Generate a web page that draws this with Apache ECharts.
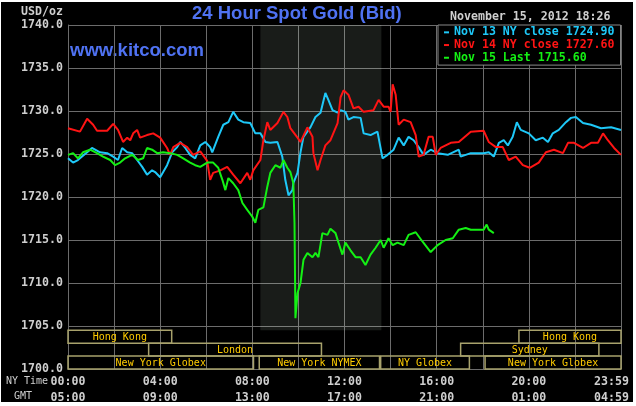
<!DOCTYPE html>
<html><head><meta charset="utf-8">
<script src="https://cdn.jsdelivr.net/npm/echarts@6/dist/echarts.min.js"></script>
<style>
html,body{margin:0;padding:0;background:#fff;}
#bg{position:absolute;left:1px;top:2px;width:632px;height:400px;background:#000;}
#c{position:absolute;left:0;top:0;width:636px;height:406px;}
</style>
</head><body><div id="bg"></div><div id="c"></div>
<script>
// ---- data (hour of NY day, USD/oz) ----
const seriesNames = ['Nov 13 NY close 1724.90', 'Nov 14 NY close 1727.60', 'Nov 15 Last 1715.60'];

const nov13 = [[0,1724.5],[0.22,1724.0],[0.43,1724.3],[0.83,1725.2],[1.04,1725.7],[1.39,1725.2],[1.70,1725.1],[1.96,1724.7],[2.17,1724.3],[2.35,1725.7],[2.57,1725.2],[2.78,1725.1],[3.00,1724.3],[3.22,1723.5],[3.43,1722.6],[3.65,1723.1],[3.78,1722.9],[4.00,1722.3],[4.30,1723.7],[4.52,1725.2],[4.74,1725.8],[4.87,1726.4],[5.09,1725.7],[5.30,1724.9],[5.52,1724.5],[5.74,1726.0],[5.96,1726.4],[6.17,1725.8],[6.26,1725.2],[6.52,1727.0],[6.74,1728.4],[6.96,1728.7],[7.17,1729.9],[7.39,1729.0],[7.61,1728.7],[7.91,1728.6],[8.13,1727.4],[8.35,1727.4],[8.57,1726.4],[8.78,1726.3],[9.09,1726.4],[9.30,1724.7],[9.43,1722.0],[9.57,1720.2],[9.74,1720.8],[9.78,1721.6],[9.96,1722.8],[10.09,1725.2],[10.22,1727.0],[10.52,1728.1],[10.74,1729.3],[10.96,1729.8],[11.17,1732.1],[11.30,1731.3],[11.48,1730.1],[11.70,1729.8],[11.83,1730.1],[12.04,1729.9],[12.17,1729.0],[12.39,1729.3],[12.70,1729.2],[12.83,1727.4],[13.13,1727.2],[13.43,1727.6],[13.65,1724.5],[13.87,1724.9],[14.13,1725.5],[14.35,1726.9],[14.57,1726.0],[14.78,1727.0],[15.00,1726.6],[15.22,1725.8],[15.43,1724.9],[15.74,1725.5],[16.04,1725.1],[16.48,1724.9],[16.96,1725.5],[17.04,1724.7],[17.48,1725.1],[18.04,1725.1],[18.26,1725.2],[18.48,1724.7],[18.70,1726.3],[18.91,1726.6],[19.09,1726.0],[19.30,1727.0],[19.48,1728.7],[19.65,1727.8],[20.00,1727.4],[20.30,1726.6],[20.61,1726.9],[20.83,1726.4],[21.04,1727.4],[21.30,1727.8],[21.61,1728.7],[21.83,1729.2],[22.04,1729.3],[22.35,1728.6],[22.70,1728.4],[23.13,1728.0],[23.57,1728.1],[24.00,1727.8]];

const nov14 = [[0,1728.0],[0.52,1727.6],[0.83,1729.1],[1.09,1728.4],[1.26,1727.7],[1.70,1727.7],[1.96,1728.5],[2.17,1727.8],[2.39,1726.4],[2.57,1726.9],[2.70,1726.6],[2.83,1727.4],[3.00,1727.8],[3.13,1726.9],[3.43,1727.2],[3.70,1727.4],[4.00,1726.9],[4.30,1725.7],[4.43,1724.9],[4.57,1725.8],[4.87,1726.3],[5.17,1725.8],[5.43,1724.9],[5.74,1725.3],[6.04,1724.2],[6.17,1722.0],[6.30,1722.8],[6.61,1723.1],[6.91,1723.5],[7.17,1722.6],[7.48,1721.6],[7.78,1722.8],[7.91,1722.0],[8.04,1723.1],[8.35,1724.3],[8.48,1726.6],[8.65,1728.7],[8.78,1727.8],[9.09,1728.6],[9.35,1729.9],[9.52,1729.3],[9.65,1728.0],[9.96,1726.9],[10.09,1726.4],[10.39,1728.1],[10.61,1727.0],[10.65,1725.1],[10.83,1723.1],[10.96,1724.3],[11.17,1726.0],[11.39,1726.6],[11.70,1728.6],[11.83,1731.6],[11.96,1732.4],[12.17,1731.9],[12.39,1730.3],[12.61,1730.5],[12.83,1729.9],[13.26,1730.1],[13.48,1731.3],[13.70,1730.5],[13.91,1730.5],[14.00,1729.9],[14.09,1733.1],[14.22,1731.9],[14.35,1728.4],[14.57,1729.0],[14.87,1728.7],[15.09,1727.2],[15.22,1724.7],[15.43,1724.9],[15.65,1727.0],[15.83,1727.0],[15.96,1724.9],[16.17,1725.7],[16.61,1726.3],[16.96,1726.4],[17.48,1727.6],[18.04,1727.7],[18.26,1726.4],[18.57,1725.8],[18.87,1725.8],[19.13,1724.3],[19.43,1724.7],[19.74,1723.7],[20.04,1723.4],[20.43,1724.0],[20.74,1725.2],[21.09,1725.5],[21.48,1725.1],[21.70,1726.3],[21.96,1726.3],[22.35,1725.7],[22.70,1726.3],[23.00,1726.3],[23.22,1727.4],[23.43,1726.6],[23.70,1725.7],[24.00,1724.9]];

const nov15 = [[0,1724.9],[0.22,1725.1],[0.43,1724.5],[0.65,1725.2],[0.96,1725.5],[1.26,1725.1],[1.52,1724.7],[1.83,1724.3],[2.04,1723.7],[2.26,1724.0],[2.48,1724.5],[2.78,1724.9],[3.04,1724.3],[3.26,1724.5],[3.43,1725.7],[3.65,1725.5],[3.87,1725.1],[4.13,1725.2],[4.43,1725.1],[4.74,1724.9],[5.00,1724.5],[5.30,1724.0],[5.52,1723.7],[5.74,1723.5],[6.04,1724.0],[6.30,1724.0],[6.52,1723.4],[6.70,1722.0],[6.83,1720.8],[6.96,1722.2],[7.17,1721.6],[7.39,1720.8],[7.57,1719.3],[7.78,1718.5],[8.00,1717.7],[8.13,1717.0],[8.26,1718.5],[8.48,1718.8],[8.65,1721.2],[8.78,1722.8],[9.00,1723.7],[9.22,1723.4],[9.35,1724.3],[9.52,1723.4],[9.65,1722.9],[9.78,1721.6],[9.83,1717.0],[9.87,1705.9],[9.96,1708.8],[10.09,1710.0],[10.22,1712.7],[10.39,1713.5],[10.61,1713.0],[10.74,1713.5],[10.87,1713.0],[11.04,1715.8],[11.26,1715.6],[11.39,1716.3],[11.61,1715.8],[11.74,1714.7],[11.91,1713.3],[12.04,1714.7],[12.26,1713.8],[12.48,1713.0],[12.70,1713.0],[12.91,1712.1],[13.13,1713.3],[13.35,1714.1],[13.57,1715.0],[13.70,1714.1],[13.91,1715.2],[14.09,1714.4],[14.30,1714.7],[14.57,1714.4],[14.78,1715.6],[15.09,1715.9],[15.39,1714.8],[15.74,1713.6],[16.04,1714.4],[16.39,1715.0],[16.70,1715.2],[16.96,1716.2],[17.26,1716.4],[17.48,1716.2],[18.04,1716.2],[18.17,1716.8],[18.26,1716.2],[18.48,1715.8]];

// trading sessions: [start hour, end hour, row]
const sessionNames = ['Hong Kong', 'London', 'New York Globex', 'New York NYMEX', 'NY Globex', 'Sydney', 'New York Globex', 'Hong Kong'];
const sessionStart = [0, 3.5, 0, 8.3, 13.57, 17.04, 18.1, 19.57];
const sessionEnd   = [4.5, 11, 8.05, 13.52, 17.42, 23.04, 24, 24];
const sessionRow   = [2, 1, 0, 0, 0, 1, 0, 2];
const nymexShade = [8.35, 13.6];

const nyTickLabels  = ['00:00', '04:00', '08:00', '12:00', '16:00', '20:00', '23:59'];
const gmtTickLabels = ['05:00', '09:00', '13:00', '17:00', '21:00', '01:00', '04:59'];

// ---- styles ----
const GRID = '#6c6c6c';
const TXT = '#cfcfcf';
const MONO = '"DejaVu Sans Mono", monospace';
const COLORS = ['#1ec8f8', '#ff1414', '#14f014'];
const ROW_H = 1.5;
const Y_MIN = 1700, Y_MAX = 1740;

const labelBase = {color: TXT, fontFamily: MONO, fontWeight: 'bold', fontSize: 11.6};
function tickFormatter(labels) {
  return function (v) {
    if (v % 4 !== 0) return '';
    const i = v / 4;
    return i === labels.length - 1 ? '{e|' + labels[i] + '}' : labels[i];
  };
}

const chart = echarts.init(document.getElementById('c'), null, {renderer: 'canvas'});
const sessionData = sessionNames.map((n, i) => [sessionStart[i], sessionEnd[i], sessionRow[i]]);

chart.setOption({
  backgroundColor: 'transparent',
  animation: false,
  grid: {left: 68, right: 15, top: 25, bottom: 37, containLabel: false},
  xAxis: [
    {type: 'value', min: 0, max: 24, interval: 2, position: 'bottom',
     axisLine: {show: false}, axisTick: {show: false},
     splitLine: {show: true, lineStyle: {color: GRID, width: 1}},
     axisLabel: Object.assign({margin: 7, formatter: tickFormatter(nyTickLabels),
       rich: {e: Object.assign({padding: [0, 19, 0, 0]}, labelBase)}}, labelBase)},
    {type: 'value', min: 0, max: 24, interval: 2, position: 'bottom', offset: 15.5,
     axisLine: {show: false}, axisTick: {show: false}, splitLine: {show: false},
     axisLabel: Object.assign({margin: 7, formatter: tickFormatter(gmtTickLabels),
       rich: {e: Object.assign({padding: [0, 19, 0, 0]}, labelBase)}}, labelBase)}
  ],
  yAxis: {type: 'value', min: Y_MIN, max: Y_MAX, interval: 5,
    axisLine: {show: true, lineStyle: {color: GRID}}, axisTick: {show: false},
    splitLine: {show: true, lineStyle: {color: GRID, width: 1}},
    axisLabel: Object.assign({margin: 5, formatter: v => v.toFixed(1)}, labelBase)},
  legend: {
    orient: 'vertical', left: 438, top: 25,
    backgroundColor: '#000', borderColor: '#888', borderWidth: 1,
    padding: [1, 6, 1, 6], itemGap: 0, itemWidth: 5, itemHeight: 2,
    icon: 'rect', selectedMode: false,
    textStyle: {fontFamily: MONO, fontWeight: 'bold', fontSize: 11.6, lineHeight: 12.7},
    data: seriesNames.map((n, i) => ({name: n, textStyle: {color: COLORS[i]}}))
  },
  graphic: [
    {type: 'text', left: 192, top: 4, style: {text: '24 Hour Spot Gold (Bid)', fill: '#4f72f2', font: 'bold 18.5px "Liberation Sans", Arial, sans-serif'}},
    {type: 'text', left: 70, top: 41, style: {text: 'www.kitco.com', fill: '#4f72f2', font: 'bold 18.5px "Liberation Sans", Arial, sans-serif'}},
    {type: 'text', left: 450, top: 11, style: {text: 'November 15, 2012 18:26', fill: TXT, font: 'bold 11.6px ' + MONO}},
    {type: 'text', right: 573, top: 6, style: {text: 'USD/oz', fill: TXT, font: 'bold 11.6px ' + MONO}},
    {type: 'text', left: 6, top: 376, style: {text: 'NY Time', fill: TXT, font: '10px ' + MONO}},
    {type: 'text', left: 14, top: 391, style: {text: 'GMT', fill: TXT, font: '10px ' + MONO}}
  ],
  series: [
    {type: 'custom', name: 'sessions', silent: true, z: 1,
     data: sessionData,
     encode: {x: [0, 1], y: 2},
     markArea: {silent: true, itemStyle: {color: 'rgba(230,255,230,0.11)'},
       data: [[{xAxis: nymexShade[0], yAxis: Y_MIN + 3 * ROW_H}, {xAxis: nymexShade[1], yAxis: Y_MAX}]]},
     renderItem: function (params, api) {
       const s = api.value(0), e = api.value(1), r = api.value(2);
       const lo = Y_MIN + r * ROW_H, hi = lo + ROW_H;
       const p1 = api.coord([s, hi]), p2 = api.coord([e, lo]);
       return {type: 'group', children: [
         {type: 'rect', shape: {x: p1[0], y: p1[1], width: p2[0] - p1[0], height: p2[1] - p1[1]},
          style: {fill: 'none', stroke: '#a8a26c', lineWidth: 1.5}},
         {type: 'text', style: {text: sessionNames[params.dataIndex], x: (p1[0] + p2[0]) / 2, y: (p1[1] + p2[1]) / 2 + 0.5,
          align: 'center', verticalAlign: 'middle', fill: '#ffcc00', font: '10px ' + MONO}}
       ]};
     }},
    {type: 'line', name: seriesNames[0], data: nov13, showSymbol: false, symbol: 'none', color: COLORS[0], lineStyle: {width: 2, color: COLORS[0]}, z: 3},
    {type: 'line', name: seriesNames[1], data: nov14, showSymbol: false, symbol: 'none', color: COLORS[1], lineStyle: {width: 2, color: COLORS[1]}, z: 4},
    {type: 'line', name: seriesNames[2], data: nov15, showSymbol: false, symbol: 'none', color: COLORS[2], lineStyle: {width: 2, color: COLORS[2]}, z: 5}
  ]
});
</script></body></html>
